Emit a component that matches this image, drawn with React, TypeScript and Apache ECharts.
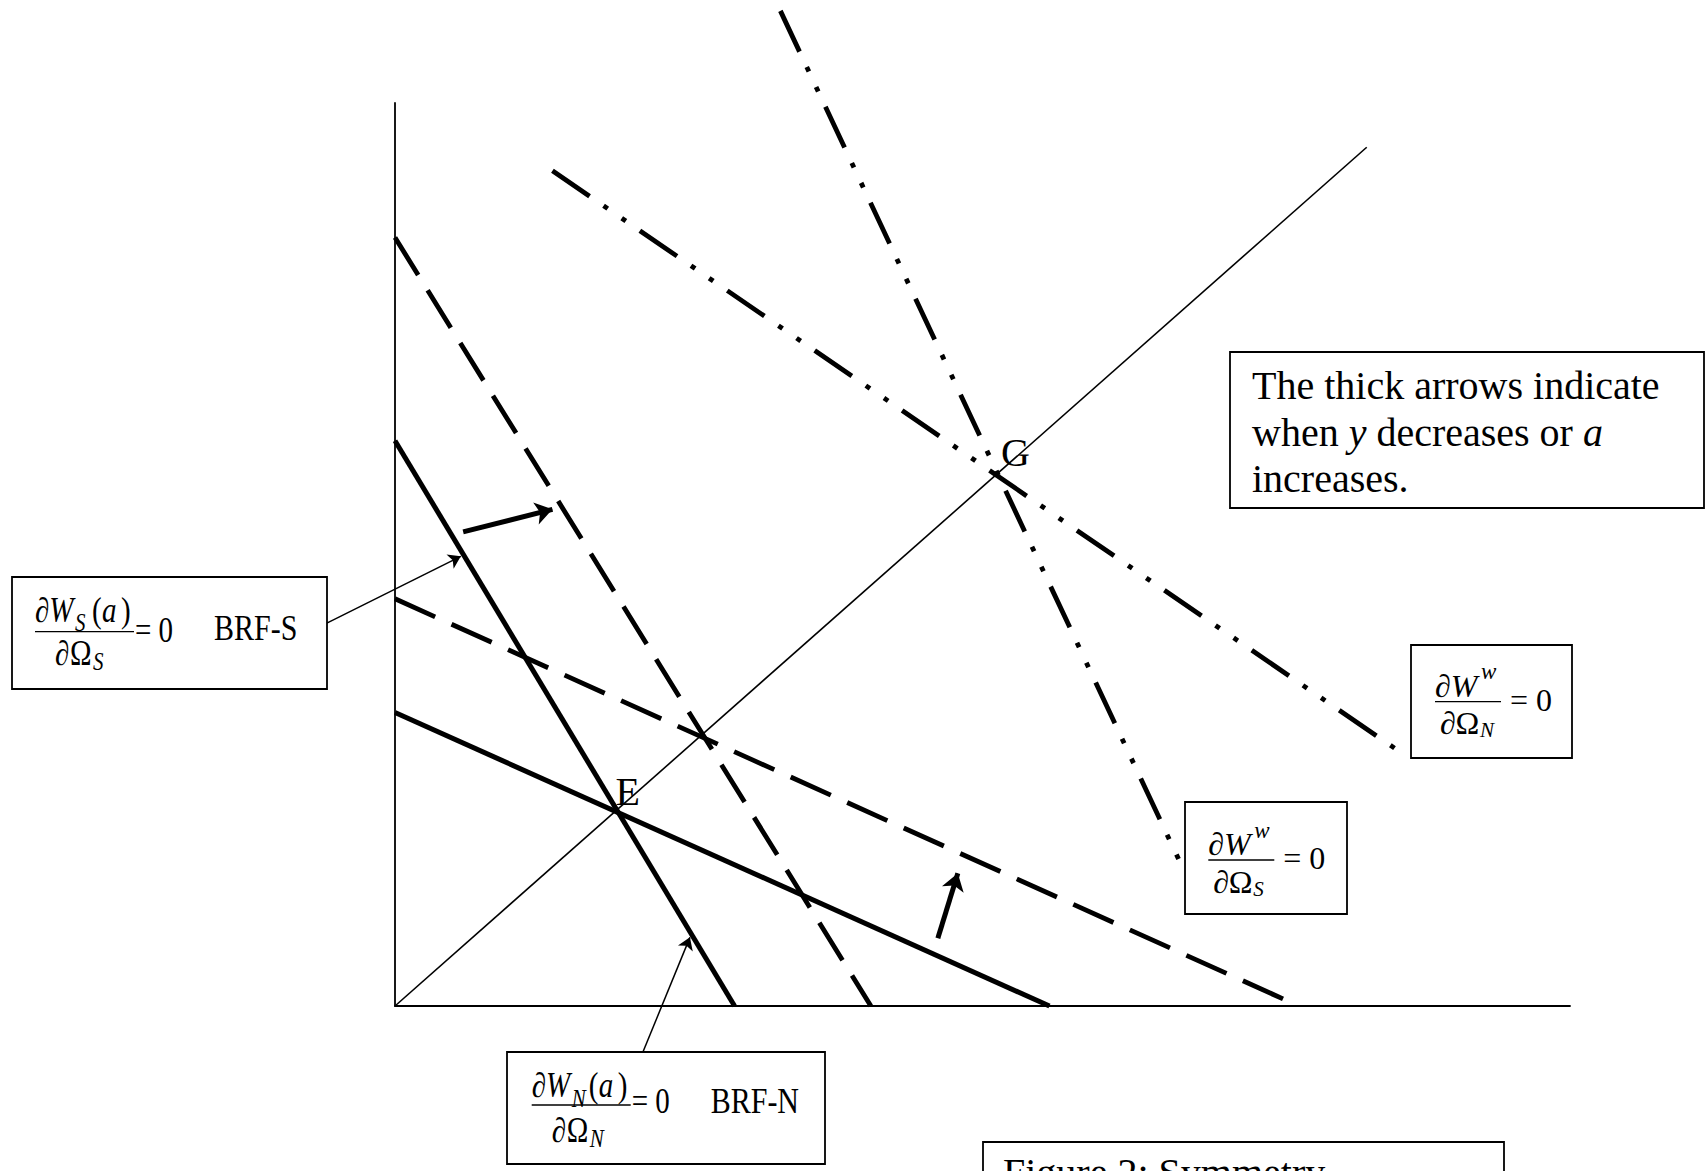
import React, { useEffect, useRef } from "react";
import * as echarts from "echarts";

const FONT = "'Liberation Serif', 'Times New Roman', Times, serif";
const INK = "#000";

// Axis ranges (abstract units)
const X_MIN = 0;
const X_MAX = 100;
const Y_MIN = 0;
const Y_MAX = 100;

// Curves (x, y in axis units)
const diagonal = [[0, 0], [82.7, 95.1]];
const steepSolid = [[0, 62.6], [28.9, 0]];
const flatSolid = [[0, 32.5], [55.7, 0]];
const steepDashed = [[0, 85.1], [40.5, 0]];
const flatDashed = [[0, 45.1], [75.9, 0.6]];
const steepDashDot = [[32.8, 110.2], [67.0, 15.4]];
const flatDashDot = [[13.4, 92.5], [85.8, 27.9]];

// Arrows: [from, to]
const thickArrows = [
  [[5.8, 52.5], [13.4, 55.0]],
  [[46.2, 7.5], [47.9, 14.7]],
];
const thinArrows = [
  [[-5.8, 42.4], [5.6, 49.8]],
  [[21.1, -5.1], [25.1, 7.6]],
];

// Point labels
const pointLabels = ["E", "G"];
const pointLabelPos = [[19.8, 23.7], [52.8, 61.3]];

// Text
const noteLine1 = "The thick arrows indicate";
const noteLine2 = [
  { t: "when ", i: false },
  { t: "y", i: true },
  { t: " decreases or ", i: false },
  { t: "a", i: true },
];
const noteLine3 = "increases.";
const captionText = "Figure 2: Symmetry";

const DASH = [44, 18];
const DASH_DOT_DOT = [45, 17, 5, 17, 5, 17];

let measureCtx: CanvasRenderingContext2D | null = null;
function measure(text: string, size: number, italic: boolean): number {
  if (!measureCtx) measureCtx = document.createElement("canvas").getContext("2d");
  if (!measureCtx) return text.length * size * 0.5;
  measureCtx.font = `${italic ? "italic " : ""}${size}px ${FONT}`;
  return measureCtx.measureText(text).width;
}

function txt(x: number, y: number, text: string, size: number, italic = false, sy = 1): any {
  return {
    type: "text",
    x,
    y,
    scaleY: sy,
    silent: true,
    z: 20,
    style: {
      text,
      fontSize: size,
      fontFamily: FONT,
      fontStyle: italic ? "italic" : "normal",
      fill: INK,
      align: "left",
      textAlign: "left",
      verticalAlign: "middle",
      textVerticalAlign: "middle",
    },
  };
}

function hline(x1: number, x2: number, y: number, w = 1.3): any {
  return {
    type: "line",
    silent: true,
    z: 20,
    shape: { x1, y1: y, x2, y2: y },
    style: { stroke: INK, lineWidth: w },
  };
}

function box(x: number, y: number, w: number, h: number): any {
  return {
    type: "rect",
    silent: true,
    z: 15,
    shape: { x, y, width: w, height: h },
    style: { fill: "#fff", stroke: INK, lineWidth: 1.8 },
  };
}

function brfFormula(
  bx: number,
  by: number,
  sub: string,
  label: string,
  numDy: number,
  denDy: number,
  eqDy: number
): any[] {
  const f = 29;
  const fs = 21;
  const sy = 1.2;
  return [
    txt(bx, by + numDy, "\u2202W", f, true, sy),
    txt(bx + 40, by + numDy + 13, sub, fs, true, sy),
    txt(bx + 57, by + numDy, "(", f, false, sy),
    txt(bx + 67, by + numDy, "a", f, true, sy),
    txt(bx + 86, by + numDy, ")", f, false, sy),
    hline(bx, bx + 99, by),
    txt(bx + 20, by + denDy, "\u2202", f, true, sy),
    txt(bx + 35, by + denDy, "\u03A9", f, false, sy),
    txt(bx + 58, by + denDy + 8.5, sub, fs, true, sy),
    txt(bx + 100, by + eqDy, "= 0", f, false, sy),
    txt(bx + 179, by - 4, label, 30, false, sy),
  ];
}

function welfareFormula(bx: number, by: number, sub: string): any[] {
  const f = 32;
  const fs = 21;
  return [
    txt(bx, by - 16, "\u2202W", f, true),
    txt(bx + 46, by - 30, "w", 23, true),
    hline(bx, bx + 66, by),
    txt(bx + 5, by + 21.5, "\u2202", f, true),
    txt(bx + 20.5, by + 21.5, "\u03A9", f, false),
    txt(bx + 45, by + 28.5, sub, fs, true),
    txt(bx + 75, by - 2, "= 0", f, false),
  ];
}

function lineSeries(data: number[][], width: number, dash: any) {
  return {
    type: "line",
    data,
    symbol: "none",
    clip: false,
    silent: true,
    animation: false,
    emphasis: { disabled: true },
    lineStyle: { color: INK, width, type: dash, cap: "butt" },
    itemStyle: { color: INK },
    z: 3,
  };
}

function arrowSeries(arrows: number[][][], width: number, head: number) {
  return {
    type: "lines",
    coordinateSystem: "cartesian2d",
    clip: false,
    silent: true,
    symbol: ["none", "arrow"],
    symbolSize: [0, head],
    lineStyle: { color: INK, width, opacity: 1, curveness: 0 },
    itemStyle: { color: INK },
    data: arrows.map((c) => ({ coords: c })),
    z: 6,
  };
}

export default function App() {
  const ref = useRef<HTMLDivElement>(null);
  useEffect(() => {
    if (!ref.current) return;
    const chart = echarts.init(ref.current, undefined, { renderer: "svg" });

    const graphics: any[] = [];
    // BRF-S box
    graphics.push(box(12, 577, 315, 112), ...brfFormula(35, 631.7, "S", "BRF-S", -22, 21, -2));
    // BRF-N box
    graphics.push(box(507, 1052, 318, 112), ...brfFormula(531.7, 1105, "N", "BRF-N", -19.5, 25, -4));
    // dW/dOmega_N box
    graphics.push(box(1411, 645, 161, 113), ...welfareFormula(1435, 701.7, "N"));
    // dW/dOmega_S box
    graphics.push(box(1185, 802, 162, 112), ...welfareFormula(1208.3, 860, "S"));
    // Note box
    graphics.push(box(1230, 352, 474, 156));
    const noteX = 1252;
    const noteY = [385.5, 432, 478.5];
    graphics.push(txt(noteX, noteY[0], noteLine1, 40));
    let cx = noteX;
    noteLine2.forEach((p) => {
      graphics.push(txt(cx, noteY[1], p.t, 40, p.i));
      cx += measure(p.t, 40, p.i);
    });
    graphics.push(txt(noteX, noteY[2], noteLine3, 40));
    // Caption box (cut by page bottom)
    graphics.push(box(983, 1142, 521, 100));
    graphics.push(txt(1003, 1172, captionText, 40));

    chart.setOption({
      animation: false,
      backgroundColor: "#fff",
      grid: { left: 395, top: 103, right: 136, bottom: 165, containLabel: false, outerBoundsMode: "none" },
      xAxis: {
        type: "value",
        min: X_MIN,
        max: X_MAX,
        axisLine: { show: true, onZero: false, lineStyle: { color: INK, width: 1.8 } },
        axisTick: { show: false },
        axisLabel: { show: false },
        splitLine: { show: false },
      },
      yAxis: {
        type: "value",
        min: Y_MIN,
        max: Y_MAX,
        axisLine: { show: true, onZero: false, lineStyle: { color: INK, width: 1.8 } },
        axisTick: { show: false },
        axisLabel: { show: false },
        splitLine: { show: false },
      },
      series: [
        lineSeries(diagonal, 1.6, "solid"),
        lineSeries(steepSolid, 5, "solid"),
        lineSeries(flatSolid, 5, "solid"),
        lineSeries(steepDashed, 4.8, DASH),
        lineSeries(flatDashed, 4.8, DASH),
        lineSeries(steepDashDot, 4.8, DASH_DOT_DOT),
        lineSeries(flatDashDot, 4.8, DASH_DOT_DOT),
        arrowSeries(thickArrows, 5, 17),
        arrowSeries(thinArrows, 1.5, 12),
        {
          type: "scatter",
          data: pointLabelPos.map((p, i) => ({ value: p, name: pointLabels[i] })),
          symbol: "circle",
          symbolSize: 2,
          silent: true,
          itemStyle: { color: "rgba(0,0,0,0)" },
          label: {
            show: true,
            position: "inside",
            formatter: "{b}",
            fontSize: 40,
            fontFamily: FONT,
            color: INK,
            opacity: 1,
          },
          z: 8,
        },
      ],
      graphic: graphics,
    });
    return () => chart.dispose();
  }, []);
  return (
    <div
      ref={ref}
      style={{ position: "absolute", left: 0, top: 0, width: 1706, height: 1171 }}
    />
  );
}
